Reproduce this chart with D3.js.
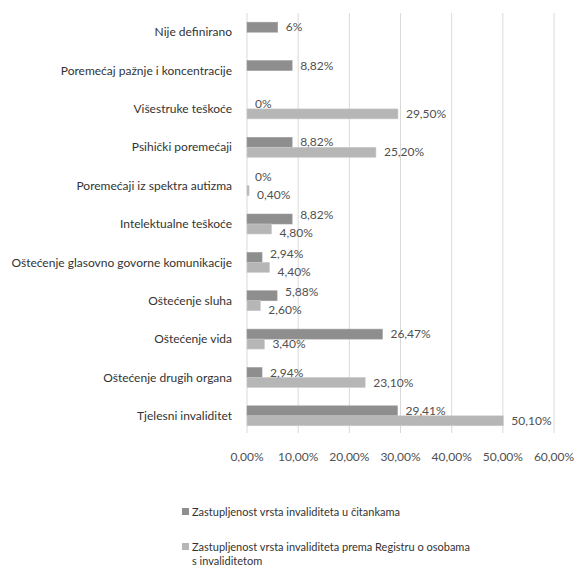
<!DOCTYPE html>
<html>
<head>
<meta charset="utf-8">
<script src="https://cdn.jsdelivr.net/npm/d3@7"></script>
<style>
  body { margin: 0; background: #fff; }
  text { font-family: Lato, "Open Sans", sans-serif; }
</style>
</head>
<body>
<div id="my_dataviz"></div>
<script>
// categories, top to bottom
var categories = [
  "Nije definirano",
  "Poremećaj pažnje i koncentracije",
  "Višestruke teškoće",
  "Psihički poremećaji",
  "Poremećaji iz spektra autizma",
  "Intelektualne teškoće",
  "Oštećenje glasovno govorne komunikacije",
  "Oštećenje sluha",
  "Oštećenje vida",
  "Oštećenje drugih organa",
  "Tjelesni invaliditet"
];
// null = no bar / no label in the original
var citanke = [6, 8.82, 0, 8.82, 0, 8.82, 2.94, 5.88, 26.47, 2.94, 29.41];
var citankeLabels = ["6%", "8,82%", "0%", "8,82%", "0%", "8,82%", "2,94%", "5,88%", "26,47%", "2,94%", "29,41%"];
var registar = [null, null, 29.5, 25.2, 0.4, 4.8, 4.4, 2.6, 3.4, 23.1, 50.1];
var registarLabels = [null, null, "29,50%", "25,20%", "0,40%", "4,80%", "4,40%", "2,60%", "3,40%", "23,10%", "50,10%"];
var xTicks = [0, 10, 20, 30, 40, 50, 60];
var seriesNames = [
  "Zastupljenost vrsta invaliditeta u čitankama",
  "Zastupljenost vrsta invaliditeta prema Registru o osobama s invaliditetom"
];

var Width = 576, Height = 566;
var margin = {top: 13, left: 247, right: 22, bottom: 131};
var colors = ["#8e8e8e", "#b6b6b6"];

var svg = d3.select("#my_dataviz")
  .append("svg")
    .attr("width", Width)
    .attr("height", Height)
  .append("g")
    .attr("transform", "translate(" + margin.left + "," + margin.top + ")");

var x = d3.scaleLinear().domain([0, 60]).range([0, 307]);
var y = d3.scaleBand().domain(categories).range([0, 422]).paddingInner(0.48).paddingOuter(0.24);
var sub = d3.scaleBand().domain([0, 1]).range([0, y.bandwidth()]);

// grid lines
svg.append("g").selectAll("line")
  .data(xTicks)
  .enter().append("line")
    .attr("x1", function(d){ return x(d); })
    .attr("x2", function(d){ return x(d); })
    .attr("y1", 0)
    .attr("y2", 420)
    .style("stroke", "#d9d9d9")
    .style("stroke-width", 1);

// x tick labels
svg.append("g").selectAll("text")
  .data(xTicks)
  .enter().append("text")
    .attr("x", function(d){ return x(d); })
    .attr("y", 448)
    .attr("text-anchor", "middle")
    .style("font-size", "12px")
    .style("fill", "#505050")
    .text(function(d){ return d.toFixed(2).replace(".", ",") + "%"; });

// category labels
svg.append("g").selectAll("text")
  .data(categories)
  .enter().append("text")
    .attr("x", -15)
    .attr("y", function(d){ return y(d) + y.bandwidth() / 2; })
    .attr("dy", "0.35em")
    .attr("text-anchor", "end")
    .style("font-size", "12px")
    .style("fill", "#333")
    .text(function(d){ return d; });

var series = [citanke, registar];
var seriesLabels = [citankeLabels, registarLabels];

series.forEach(function(vals, s) {
  svg.append("g").selectAll("rect")
    .data(categories.map(function(c, i){ return {c: c, v: vals[i]}; }).filter(function(d){ return d.v !== null; }))
    .enter().append("rect")
      .attr("x", x(0))
      .attr("y", function(d){ return y(d.c) + sub(s); })
      .attr("width", function(d){ return Math.max(x(d.v) - x(0), 0); })
      .attr("height", sub.bandwidth())
      .style("fill", colors[s])
      .style("stroke", d3.color(colors[s]).brighter(0.3))
      .style("stroke-width", 0.6);
});

// value labels, pushed apart when the pair would collide
var labelG = svg.append("g");
categories.forEach(function(c, i) {
  var items = [];
  series.forEach(function(vals, s) {
    if (vals[i] === null) return;
    var t = labelG.append("text")
      .attr("x", x(vals[i]) + 8)
      .attr("y", y(c) + sub(s) + sub.bandwidth() / 2)
      .attr("dy", "0.35em")
      .style("font-size", "12px")
      .style("fill", "#505050")
      .text(seriesLabels[s][i]);
    items.push(t);
  });
  if (items.length === 2) {
    var a = items[0].node().getBBox(), b = items[1].node().getBBox();
    if (a.x < b.x + b.width + 2 && b.x < a.x + a.width + 2) {
      items[0].attr("y", +items[0].attr("y") - 4);
      items[1].attr("y", +items[1].attr("y") + 4);
    }
  }
});

// legend
var legend = d3.select("svg").append("g").attr("transform", "translate(182,0)");
legend.append("rect").attr("x", 0).attr("y", 508).attr("width", 7).attr("height", 7).style("fill", colors[0]);
legend.append("text").attr("x", 10).attr("y", 512).attr("dy", "0.35em")
  .style("font-size", "11px").style("fill", "#333").text(seriesNames[0]);
legend.append("rect").attr("x", 0).attr("y", 543).attr("width", 7).attr("height", 7).style("fill", colors[1]);
var t2 = legend.append("text").attr("x", 10).attr("y", 547).attr("dy", "0.35em")
  .style("font-size", "11px").style("fill", "#333");
t2.append("tspan").text("Zastupljenost vrsta invaliditeta prema Registru o osobama");
t2.append("tspan").attr("x", 10).attr("dy", "1.3em").text("s invaliditetom");
</script>
</body>
</html>
